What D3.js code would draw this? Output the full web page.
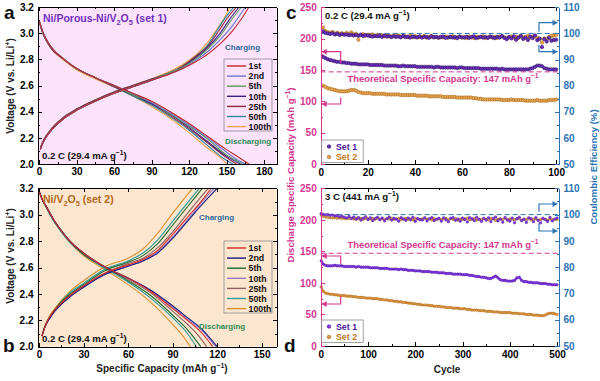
<!DOCTYPE html>
<html><head><meta charset="utf-8">
<script src="https://cdn.jsdelivr.net/npm/d3@7"></script>
<style>body{margin:0;background:#fff}svg{display:block}</style>
</head><body><svg id="chart" width="600" height="381"></svg>
<script>
const FONT = '"Liberation Sans", Arial, sans-serif';
// ---------- Panel a/b: voltage profiles ----------
const cycleLabels = ["1st","2nd","5th","10th","25th","50th","100th"];
const colorsA = ["#c0282a","#6a78d0","#5a9a5a","#3c2080","#8a2a3a","#2a8a9a","#f0a848"];
const colorsB = ["#d02828","#1a1a80","#1e6a30","#9878c8","#8a6060","#2a9a9a","#d89030"];

const set1Discharge = [
 [[0,3.10],[3,3.01],[6,2.95],[10,2.89],[20,2.80],[30,2.73],[45,2.66],[60,2.60],[75,2.54],[90,2.48],[105,2.40],[120,2.31],[135,2.21],[150,2.11],[160,2.05],[168,2.00]],
 [[0,3.10],[3,3.01],[6,2.95],[10,2.89],[20,2.80],[30,2.73],[45,2.66],[60,2.60],[75,2.54],[90,2.47],[105,2.39],[120,2.30],[135,2.20],[150,2.09],[159,2.03],[165,2.00]],
 [[0,3.10],[3,3.01],[6,2.95],[10,2.89],[20,2.80],[30,2.73],[45,2.66],[60,2.60],[75,2.53],[90,2.47],[105,2.38],[120,2.29],[135,2.19],[150,2.07],[157,2.03],[163,2.00]],
 [[0,3.10],[3,3.01],[6,2.95],[10,2.89],[20,2.80],[30,2.73],[45,2.66],[60,2.60],[75,2.53],[90,2.46],[105,2.38],[120,2.28],[135,2.17],[150,2.06],[161,2.00]],
 [[0,3.09],[3,3.00],[6,2.94],[10,2.88],[20,2.80],[30,2.73],[45,2.66],[60,2.59],[75,2.53],[90,2.46],[105,2.37],[120,2.27],[135,2.16],[150,2.05],[158,2.00]],
 [[0,3.09],[3,3.00],[6,2.94],[10,2.88],[20,2.80],[30,2.73],[45,2.66],[60,2.59],[75,2.52],[90,2.45],[105,2.36],[120,2.26],[135,2.14],[148,2.04],[155,2.00]],
 [[0,3.09],[3,3.00],[6,2.94],[10,2.88],[20,2.79],[30,2.72],[45,2.65],[60,2.59],[75,2.52],[90,2.44],[105,2.35],[120,2.24],[135,2.12],[145,2.05],[150,2.00]]
];
const set1Charge = [
 [[1,2.11],[3,2.16],[6,2.21],[10,2.26],[20,2.35],[30,2.41],[45,2.48],[60,2.54],[75,2.59],[90,2.64],[105,2.69],[115,2.73],[125,2.78],[135,2.84],[145,2.92],[155,3.02],[162,3.11],[168,3.20]],
 [[1,2.11],[3,2.16],[6,2.21],[10,2.26],[20,2.35],[30,2.41],[45,2.48],[60,2.54],[75,2.59],[90,2.64],[105,2.69],[115,2.73],[125,2.79],[135,2.86],[145,2.95],[155,3.06],[165,3.20]],
 [[1,2.11],[3,2.16],[6,2.21],[10,2.26],[20,2.35],[30,2.41],[45,2.48],[60,2.54],[75,2.59],[90,2.64],[105,2.70],[115,2.74],[125,2.80],[135,2.88],[145,2.98],[153,3.09],[162,3.20]],
 [[1,2.11],[3,2.16],[6,2.21],[10,2.26],[20,2.35],[30,2.41],[45,2.48],[60,2.54],[75,2.59],[90,2.64],[105,2.70],[115,2.74],[125,2.81],[135,2.89],[145,3.00],[152,3.10],[160,3.20]],
 [[1,2.12],[3,2.17],[6,2.22],[10,2.27],[20,2.36],[30,2.42],[45,2.49],[60,2.55],[75,2.60],[90,2.65],[105,2.70],[115,2.75],[125,2.82],[135,2.90],[144,3.02],[151,3.12],[158,3.20]],
 [[1,2.12],[3,2.17],[6,2.22],[10,2.27],[20,2.36],[30,2.42],[45,2.49],[60,2.55],[75,2.60],[90,2.65],[105,2.70],[115,2.75],[125,2.82],[135,2.91],[143,3.03],[150,3.13],[156,3.20]],
 [[1,2.12],[3,2.17],[6,2.22],[10,2.27],[20,2.36],[30,2.42],[45,2.49],[60,2.55],[75,2.60],[90,2.65],[105,2.71],[115,2.76],[125,2.83],[135,2.93],[143,3.04],[149,3.13],[153,3.20]]
];
const set2Discharge = [
 [[0,3.18],[2,3.12],[5,3.06],[10,2.96],[15,2.88],[20,2.81],[30,2.71],[45,2.60],[60,2.52],[75,2.42],[90,2.29],[100,2.20],[110,2.10],[117,2.00]],
 [[0,3.18],[2,3.12],[5,3.06],[10,2.96],[15,2.88],[20,2.81],[30,2.71],[45,2.60],[60,2.52],[75,2.43],[90,2.31],[100,2.22],[110,2.13],[120,2.00]],
 [[0,3.18],[2,3.12],[5,3.06],[10,2.96],[15,2.88],[20,2.81],[30,2.70],[45,2.60],[60,2.50],[75,2.39],[90,2.24],[100,2.13],[109,2.00]],
 [[0,3.18],[2,3.12],[5,3.06],[10,2.96],[15,2.88],[20,2.81],[30,2.71],[45,2.60],[60,2.52],[75,2.43],[90,2.30],[100,2.21],[110,2.12],[119,2.00]],
 [[0,3.18],[2,3.12],[5,3.06],[10,2.96],[15,2.88],[20,2.81],[30,2.71],[45,2.60],[60,2.51],[75,2.41],[90,2.27],[100,2.17],[107,2.09],[113,2.00]],
 [[0,3.18],[2,3.12],[5,3.05],[10,2.95],[15,2.87],[20,2.80],[30,2.70],[45,2.59],[60,2.49],[75,2.37],[90,2.22],[100,2.10],[106,2.00]],
 [[0,3.18],[2,3.12],[5,3.05],[10,2.95],[15,2.87],[20,2.80],[30,2.69],[45,2.58],[60,2.47],[75,2.34],[90,2.17],[97,2.08],[102,2.00]]
];
const set2Charge = [
 [[2,2.08],[4,2.15],[7,2.22],[10,2.27],[15,2.33],[20,2.38],[30,2.46],[45,2.56],[60,2.62],[70,2.66],[80,2.73],[90,2.85],[100,2.98],[110,3.11],[116,3.20]],
 [[2,2.08],[4,2.15],[7,2.21],[10,2.26],[15,2.32],[20,2.37],[30,2.45],[45,2.55],[60,2.61],[70,2.65],[80,2.71],[90,2.82],[100,2.95],[110,3.08],[120,3.20]],
 [[2,2.08],[4,2.15],[7,2.22],[10,2.27],[15,2.34],[20,2.39],[30,2.47],[45,2.58],[60,2.64],[70,2.69],[80,2.78],[90,2.92],[100,3.06],[110,3.20]],
 [[2,2.08],[4,2.15],[7,2.21],[10,2.26],[15,2.32],[20,2.37],[30,2.45],[45,2.55],[60,2.61],[70,2.65],[80,2.72],[90,2.83],[100,2.96],[110,3.10],[118,3.20]],
 [[2,2.08],[4,2.15],[7,2.22],[10,2.27],[15,2.33],[20,2.38],[30,2.46],[45,2.56],[60,2.63],[70,2.67],[80,2.75],[90,2.87],[100,3.01],[108,3.12],[114,3.20]],
 [[2,2.08],[4,2.15],[7,2.22],[10,2.27],[15,2.34],[20,2.40],[30,2.48],[45,2.59],[60,2.65],[70,2.71],[80,2.81],[90,2.95],[100,3.09],[108,3.20]],
 [[2,2.09],[4,2.16],[7,2.23],[10,2.28],[15,2.35],[20,2.41],[30,2.50],[45,2.61],[60,2.67],[70,2.74],[80,2.86],[90,3.01],[97,3.11],[103.5,3.20]]
];

// ---------- Panel c: 0.2 C cycling ----------
const cyclesC = d3.range(1, 101);
const capC1 = [171,169,167,166,165,164,163,163,162,162,161,161,160,160,160,159,159,159,159,159,
 158,158,158,158,158,158,157,157,157,157,157,157,156,156,157,156,156,156,156,156,
 155,155,155,155,155,155,155,154,155,155,154,154,154,154,154,154,154,153,154,154,
 153,153,153,153,153,153,153,152,152,152,152,152,152,152,152,151,152,151,151,151,
 151,151,151,151,151,151,151,151,152,153,155,157,157,156,153,152,151,151,151,151];
const capC2 = [125,123,121,120,119,118,117,116,116,116,116,117,118,118,117,115,114,113,113,113,
 113,112,112,112,112,112,112,111,111,111,111,111,111,110,110,110,110,110,110,110,
 109,109,109,109,109,108,108,108,108,108,108,107,107,107,107,107,107,106,106,106,
 106,106,106,106,105,105,104,104,103,103,103,103,103,103,103,103,102,102,102,102,
 103,102,102,102,102,102,101,101,101,101,101,102,101,101,101,101,102,102,102,103];
const ceC1 = [100.8,100.2,100.0,99.8,100.1,99.6,99.9,99.4,99.7,99.5,99.6,99.3,99.5,99.2,99.4,99.1,99.5,99.0,99.3,99.2,
 99.0,98.8,99.1,98.9,99.0,98.7,99.2,98.8,98.9,98.6,98.9,98.7,98.8,98.5,99.0,98.6,98.7,98.4,98.8,98.6,
 98.5,98.8,98.4,98.7,98.6,98.3,98.9,98.5,98.7,98.4,98.6,98.8,98.3,98.5,98.7,98.4,98.6,98.2,98.8,98.5,
 98.4,98.7,98.3,98.6,98.9,98.2,98.5,98.7,98.4,98.6,98.3,98.8,98.5,98.2,98.7,98.4,99.0,98.3,97.8,98.6,
 98.1,98.9,97.6,98.5,99.1,97.9,98.4,97.5,98.8,98.2,99.2,97.4,98.0,94.8,97.8,96.9,98.3,97.2,97.5,97.6];
const ceC2 = [102.3,100.9,100.5,100.2,100.6,99.9,100.3,99.8,100.1,99.7,100.2,99.8,100.4,99.6,99.9,97.6,99.4,99.7,99.2,99.5,
 99.3,99.6,99.0,99.4,99.1,99.3,98.9,99.2,99.0,98.8,99.1,98.9,99.2,98.7,99.0,98.8,98.6,99.1,98.7,98.9,
 98.5,98.8,98.6,99.0,98.4,98.7,98.9,98.5,98.6,98.3,98.7,98.5,98.8,98.4,98.6,98.9,98.3,98.5,98.7,98.4,
 98.6,98.2,98.8,98.5,98.3,98.7,98.4,98.6,98.9,98.2,98.5,98.8,98.4,98.6,98.3,98.7,98.9,98.5,98.2,98.6,
 98.8,98.4,98.7,98.3,98.9,98.5,98.6,99.1,98.4,98.7,98.9,98.3,97.9,96.5,98.1,97.8,98.7,99.0,99.2,99.4];

// ---------- Panel d: 3 C cycling (every 5th cycle) ----------
const cyclesD = [1].concat(d3.range(5, 501, 5));
const capD1 = [135,130,128,127,127,127,128,127,127,127,126,
 126,126,126,126,125,126,125,125,125,125,
 124,124,124,124,123,123,123,123,122,122,
 122,122,121,122,121,121,120,120,120,119,
 119,119,118,118,118,118,117,117,117,116,
 116,116,115,115,115,114,114,114,114,113,
 113,113,112,112,111,110,110,109,109,108,
 107,107,109,111,108,105,104,104,103,103,
 103,104,108,109,104,102,102,101,101,100,
 100,100,99,99,99,98,98,97,97,97];
const capD2 = [94,87,84,83,82,82,81,81,80,80,80,
 79,79,79,78,78,77,77,77,76,76,
 76,75,75,75,74,74,73,73,72,72,
 71,71,70,70,69,69,68,68,67,67,
 66,66,65,65,65,64,64,63,63,63,
 62,62,61,61,61,60,60,60,59,59,
 59,58,58,57,57,57,56,56,56,55,
 55,55,54,54,54,53,53,53,53,53,
 52,52,52,51,51,51,50,50,50,49,
 49,49,48,48,49,51,52,52,51,50];
const ceD1 = [100.4,100.1,99.9,100.0,99.7,99.8,99.5,99.6,99.2,99.4,99.0,
 98.7,99.3,98.5,99.1,98.2,98.9,97.9,98.6,99.2,98.1,
 98.8,97.7,98.5,99.0,98.0,98.7,97.6,98.4,99.1,97.9,
 98.6,98.2,97.5,98.9,98.3,97.8,98.7,98.0,99.0,97.4,
 98.5,98.1,97.9,98.8,97.6,98.4,98.9,97.7,98.2,98.6,
 97.5,98.8,98.0,97.3,98.6,98.9,97.8,98.3,97.5,98.7,
 98.1,97.2,98.9,98.4,97.7,99.0,98.2,97.4,98.6,97.9,
 98.8,97.3,98.5,99.1,97.6,98.3,97.1,98.9,98.0,97.5,
 98.7,96.9,98.4,99.0,97.7,98.2,97.0,98.8,98.5,97.3,
 98.9,97.8,96.8,98.6,98.1,97.4,99.0,97.6,98.3,98.7];
const ceD2 = [99.8,99.4,99.1,98.9,98.8,98.7,98.8,98.6,98.7,98.5,98.6,
 98.4,98.6,98.5,98.3,98.6,98.4,98.5,98.2,98.6,98.4,
 98.3,98.5,98.2,98.6,98.3,98.4,98.1,98.5,98.3,98.6,
 98.2,98.4,98.5,98.1,98.3,98.6,98.2,98.4,98.0,98.5,
 98.3,98.1,98.4,98.6,98.2,98.3,98.0,98.5,98.2,98.4,
 98.1,98.3,98.6,98.0,98.4,98.2,98.5,97.9,98.3,98.1,
 98.4,98.6,98.0,98.2,98.5,97.9,98.3,98.1,98.4,98.2,
 98.0,98.5,98.3,97.8,98.2,98.4,98.1,98.6,97.9,98.3,
 98.2,98.0,98.4,98.5,97.8,98.3,98.1,98.4,98.0,98.2,
 98.3,97.9,98.1,98.4,98.2,97.8,98.3,98.0,98.2,98.1];

const theoreticalCapacity = 147;
const setNames = ["Set 1","Set 2"];

// ---------- drawing ----------
const svg = d3.select('#chart').attr('font-family', FONT).attr('font-weight', 'bold');
const PINK = '#d4358f', BLUE = '#2b74b5';
const P1c = {fill:'#6a30c0', stroke:'#341262'}, P2c = {fill:'#e8a850', stroke:'#a8661c'};
const P1d = {fill:'#8238e6', stroke:'#4a1a90'}, P2d = {fill:'#d99640', stroke:'#a8661c'};
const TICK_FS = 10;

function styleAxis(sel, color) {
  sel.selectAll('path,line').attr('stroke', color).attr('stroke-width', 1).attr('shape-rendering','crispEdges');
  sel.selectAll('text').attr('fill', color).attr('font-size', TICK_FS).attr('font-weight', 'bold').attr('font-family', FONT);
}
function axisPair(g, ax, scale, major, minor, pos, color, fmt, showLabels, pad) {
  const t = (ax === 'bottom' || ax === 'top') ? `translate(0,${pos})` : `translate(${pos},0)`;
  const mk = ax === 'bottom' ? d3.axisBottom : ax === 'top' ? d3.axisTop : ax === 'left' ? d3.axisLeft : d3.axisRight;
  const a = g.append('g').attr('transform', t)
    .call(mk(scale).tickValues(major).tickSizeInner(-4).tickSizeOuter(0).tickPadding(pad || 4)
      .tickFormat(showLabels ? fmt : () => ''));
  styleAxis(a, color);
  const m = g.append('g').attr('transform', t)
    .call(mk(scale).tickValues(minor).tickSizeInner(-2).tickSizeOuter(0).tickFormat(() => ''));
  m.select('.domain').remove();
  styleAxis(m, color);
}
function rich(textSel, parts, fs) {
  let shift = 0;
  parts.forEach(([t, k]) => {
    const target = k === 'sub' ? fs * 0.3 : k === 'sup' ? -fs * 0.4 : 0;
    const ts = textSel.append('tspan').text(t).attr('dy', target - shift);
    if (k) ts.attr('font-size', fs * 0.7);
    shift = target;
  });
}
function label(x, y, parts, fs, color, anchor, rot) {
  const t = svg.append('text').attr('font-size', fs).attr('fill', color).attr('text-anchor', anchor || 'start');
  if (rot) t.attr('transform', `translate(${x},${y}) rotate(${rot})`); else t.attr('x', x).attr('y', y);
  rich(t, parts, fs);
  return t;
}

function voltagePanel(o) {
  const x = d3.scaleLinear().domain(o.xDomain).range(o.xRange);
  const y = d3.scaleLinear().domain([2.0, 3.2]).range(o.yRange);
  const g = svg.append('g');
  g.append('rect').attr('x', o.xRange[0]).attr('y', o.yRange[1])
    .attr('width', o.xRange[1] - o.xRange[0]).attr('height', o.yRange[0] - o.yRange[1]).attr('fill', o.bg);
  const line = d3.line().x(d => x(d[0])).y(d => y(d[1])).curve(d3.curveMonotoneX);
  for (let i = o.dis.length - 1; i >= 0; i--) {
    g.append('path').attr('d', line(o.dis[i])).attr('fill', 'none').attr('stroke', o.colors[i]).attr('stroke-width', 1.1);
    g.append('path').attr('d', line(o.chg[i])).attr('fill', 'none').attr('stroke', o.colors[i]).attr('stroke-width', 1.1);
  }
  const fmt = d3.format('.1f');
  axisPair(g, 'bottom', x, o.xMajor, o.xMinor, o.yRange[0], '#000', d3.format('d'), true);
  axisPair(g, 'top', x, o.xMajor, o.xMinor, o.yRange[1], '#000', null, false);
  const yMaj = [2.0,2.2,2.4,2.6,2.8,3.0,3.2], yMin = [2.1,2.3,2.5,2.7,2.9,3.1];
  axisPair(g, 'left', y, yMaj, yMin, o.xRange[0], '#000', fmt, true);
  axisPair(g, 'right', y, yMaj, yMin, o.xRange[1], '#000', null, false);
  // legend
  const lg = g.append('g');
  lg.append('rect').attr('x', 224).attr('y', o.legTop).attr('width', 48).attr('height', 72)
    .attr('fill', 'none').attr('stroke', '#8a8a8a').attr('stroke-width', 0.8);
  cycleLabels.forEach((c, i) => {
    const yy = o.legTop + 7 + i * 10.1;
    lg.append('line').attr('x1', 227).attr('x2', 246).attr('y1', yy).attr('y2', yy).attr('stroke', o.colors[i]).attr('stroke-width', 1.4);
    lg.append('text').attr('x', 248.5).attr('y', yy + 3.2).attr('font-size', 8.8).attr('fill', '#111').text(c);
  });
  return {x, y};
}

// Panel a
voltagePanel({xDomain:[-1,190], xRange:[37.8,276.5], yRange:[164,7], bg:'#fce2fb',
  dis:set1Discharge, chg:set1Charge, colors:colorsA, xMajor:[0,30,60,90,120,150,180], xMinor:[15,45,75,105,135,165],
  legTop:59});
// Panel b
voltagePanel({xDomain:[-1,160], xRange:[37.5,276.5], yRange:[346.7,188.3], bg:'#fde6cf',
  dis:set2Discharge, chg:set2Charge, colors:colorsB, xMajor:[0,30,60,90,120,150], xMinor:[15,45,75,105,135],
  legTop:241});

label(43, 22, [['Ni/Porous-Ni/V',null],['2','sub'],['O',null],['5','sub'],[' (set 1)',null]], 10.5, '#7030c0');
label(43, 203, [['Ni/V',null],['2','sub'],['O',null],['5','sub'],[' (set 2)',null]], 10.5, '#b06a20');
label(225, 50, [['Charging',null]], 8, '#2a6a9a');
label(225, 144, [['Discharging',null]], 8, '#2e8b57');
label(199, 220, [['Charging',null]], 8, '#2a6a9a');
label(199, 329, [['Discharging',null]], 8, '#2e8b57');
label(42, 159, [['0.2 C (29.4 mA g',null],['−1','sup'],[')',null]], 9.6, '#111');
label(42, 342, [['0.2 C (29.4 mA g',null],['−1','sup'],[')',null]], 9.6, '#111');
label(14, 86, [['Voltage (V vs. Li/Li',null],['+','sup'],[')',null]], 10, '#222', 'middle', -90);
label(14, 256, [['Voltage (V vs. Li/Li',null],['+','sup'],[')',null]], 10, '#222', 'middle', -90);
label(162, 372, [['Specific Capacity (mAh g',null],['−1','sup'],[')',null]], 10, '#222', 'middle');
label(4, 19, [['a',null]], 19, '#111');
label(3, 352, [['b',null]], 19, '#111');
label(286, 19, [['c',null]], 19, '#111');
label(284, 352, [['d',null]], 19, '#111');

// ---------- cycling panels ----------
function cyclePanel(o) {
  const x = d3.scaleLinear().domain(o.xDomain).range([320.7, 558.5]);
  const yL = d3.scaleLinear().domain([0, 250]).range(o.yRange);
  const yR = d3.scaleLinear().domain([50, 110]).range(o.yRange);
  const g = svg.append('g');
  const P1 = o.p1, P2 = o.p2;
  // reference lines
  g.append('line').attr('x1', x.range()[0]).attr('x2', x.range()[1]).attr('y1', yL(theoreticalCapacity)).attr('y2', yL(theoreticalCapacity))
    .attr('stroke', PINK).attr('stroke-width', 1).attr('stroke-dasharray', '5,3');
  g.append('line').attr('x1', x.range()[0]).attr('x2', x.range()[1]).attr('y1', yR(100)).attr('y2', yR(100))
    .attr('stroke', BLUE).attr('stroke-width', 1).attr('stroke-dasharray', '5,3');
  const series = [
    {xs:o.cycles, ys:o.ce2, s:yR, p:P2}, {xs:o.cycles, ys:o.ce1, s:yR, p:P1},
    {xs:o.cycles, ys:o.cap1, s:yL, p:P1}, {xs:o.cycles, ys:o.cap2, s:yL, p:P2}
  ];
  series.forEach(se => {
    const pts = se.xs.map((c, i) => [c, se.ys[i]]);
    if (o.dense) {
      g.append('path').attr('d', d3.line().x(d => x(d[0])).y(d => se.s(d[1]))(pts))
        .attr('fill', 'none').attr('stroke', se.p.fill).attr('stroke-width', se.s === yL ? 2.2 : 0.8).attr('opacity', se.s === yL ? 1 : 0.6);
    }
    g.append('g').selectAll('circle').data(pts).join('circle')
      .attr('cx', d => x(d[0])).attr('cy', d => se.s(d[1])).attr('r', o.dense ? 1.3 : 1.7)
      .attr('fill', se.p.fill).attr('stroke', se.p.stroke).attr('stroke-width', o.dense ? 0.4 : 0.6);
  });
  axisPair(g, 'bottom', x, o.xMajor, o.xMinor, o.yRange[0], '#000', d3.format('d'), true, 5);
  axisPair(g, 'top', x, o.xMajor, o.xMinor, o.yRange[1], '#000', null, false);
  axisPair(g, 'left', yL, [0,50,100,150,200,250], [25,75,125,175,225], x.range()[0], PINK, d3.format('d'), true, 4);
  axisPair(g, 'right', yR, [50,60,70,80,90,100,110], [55,65,75,85,95,105], x.range()[1], BLUE, d3.format('d'), true, 5);
  // arrows
  const arrow = (pts, color, head) => {
    g.append('path').attr('d', d3.line()(pts)).attr('fill', 'none').attr('stroke', color).attr('stroke-width', 1.2);
    const [hx, hy] = pts[pts.length - 1], dir = head;
    g.append('path').attr('d', `M${hx},${hy} L${hx - dir * 5},${hy - 3} L${hx - dir * 5},${hy + 3} Z`).attr('fill', color);
  };
  const xl = x.range()[0], xr = x.range()[1], ax = 340.7, bx = 539;
  arrow([[ax, o.pinkA[1]], [ax, o.pinkA[0]], [xl + 1, o.pinkA[0]]], PINK, -1);
  arrow([[ax, o.pinkB[1]], [ax, o.pinkB[0]], [xl + 1, o.pinkB[0]]], PINK, -1);
  arrow([[bx, o.blueA[1]], [bx, o.blueA[0]], [xr - 1, o.blueA[0]]], BLUE, 1);
  arrow([[bx, o.blueB[1]], [bx, o.blueB[0]], [xr - 1, o.blueB[0]]], BLUE, 1);
  // theoretical label
  label(443, o.theoY, [['Theoretical Specific Capacity: 147 mAh g',null],['−1','sup']], 9.4, PINK, 'middle');
  label(325, o.rateY, o.rate, 9.6, '#111');
  // legend
  g.append('rect').attr('x', 321.7).attr('y', o.legTop).attr('width', 41.5).attr('height', 22.5)
    .attr('fill', '#fff').attr('stroke', '#8a8a8a').attr('stroke-width', 0.8);
  [P1, P2].forEach((p, i) => {
    const yy = o.legTop + 6.5 + i * 10.5;
    g.append('circle').attr('cx', 329).attr('cy', yy).attr('r', 1.8).attr('fill', p.fill).attr('stroke', p.stroke).attr('stroke-width', 0.6);
    g.append('text').attr('x', 336).attr('y', yy + 3.2).attr('font-size', 8.8).attr('fill', i === 0 ? '#4a1a9a' : '#c07820').text(setNames[i]);
  });
}

cyclePanel({xDomain:[0,101], yRange:[164,7.3], cycles:cyclesC, cap1:capC1, cap2:capC2, ce1:ceC1, ce2:ceC2, dense:false, p1:P1c, p2:P2c,
  xMajor:[0,20,40,60,80,100], xMinor:[10,30,50,70,90],
  pinkA:[51.7,63.3], pinkB:[104,97.5], blueA:[22.7,31.7], blueB:[51.7,45],
  theoY:82, rateY:19, rate:[['0.2 C (29.4 mA g',null],['−1','sup'],[')',null]], legTop:140});
cyclePanel({xDomain:[0,503], yRange:[346,188.3], cycles:cyclesD, cap1:capD1, cap2:capD2, ce1:ceD1, ce2:ceD2, dense:true, p1:P1d, p2:P2d,
  xMajor:[0,100,200,300,400,500], xMinor:[50,150,250,350,450],
  pinkA:[256,264], pinkB:[304,296.7], blueA:[204,211.7], blueB:[231,223.3],
  theoY:248, rateY:200, rate:[['3 C (441 mA g',null],['−1','sup'],[')',null]], legTop:320});

label(294, 175, [['Discharge Specific Capacity (mAh g',null],['−1','sup'],[')',null]], 9.6, PINK, 'middle', -90);
label(597, 167, [['Coulombic Efficiency (%)',null]], 9.6, BLUE, 'middle', -90);
label(447, 373, [['Cycle',null]], 10, '#222', 'middle');
</script></body></html>
